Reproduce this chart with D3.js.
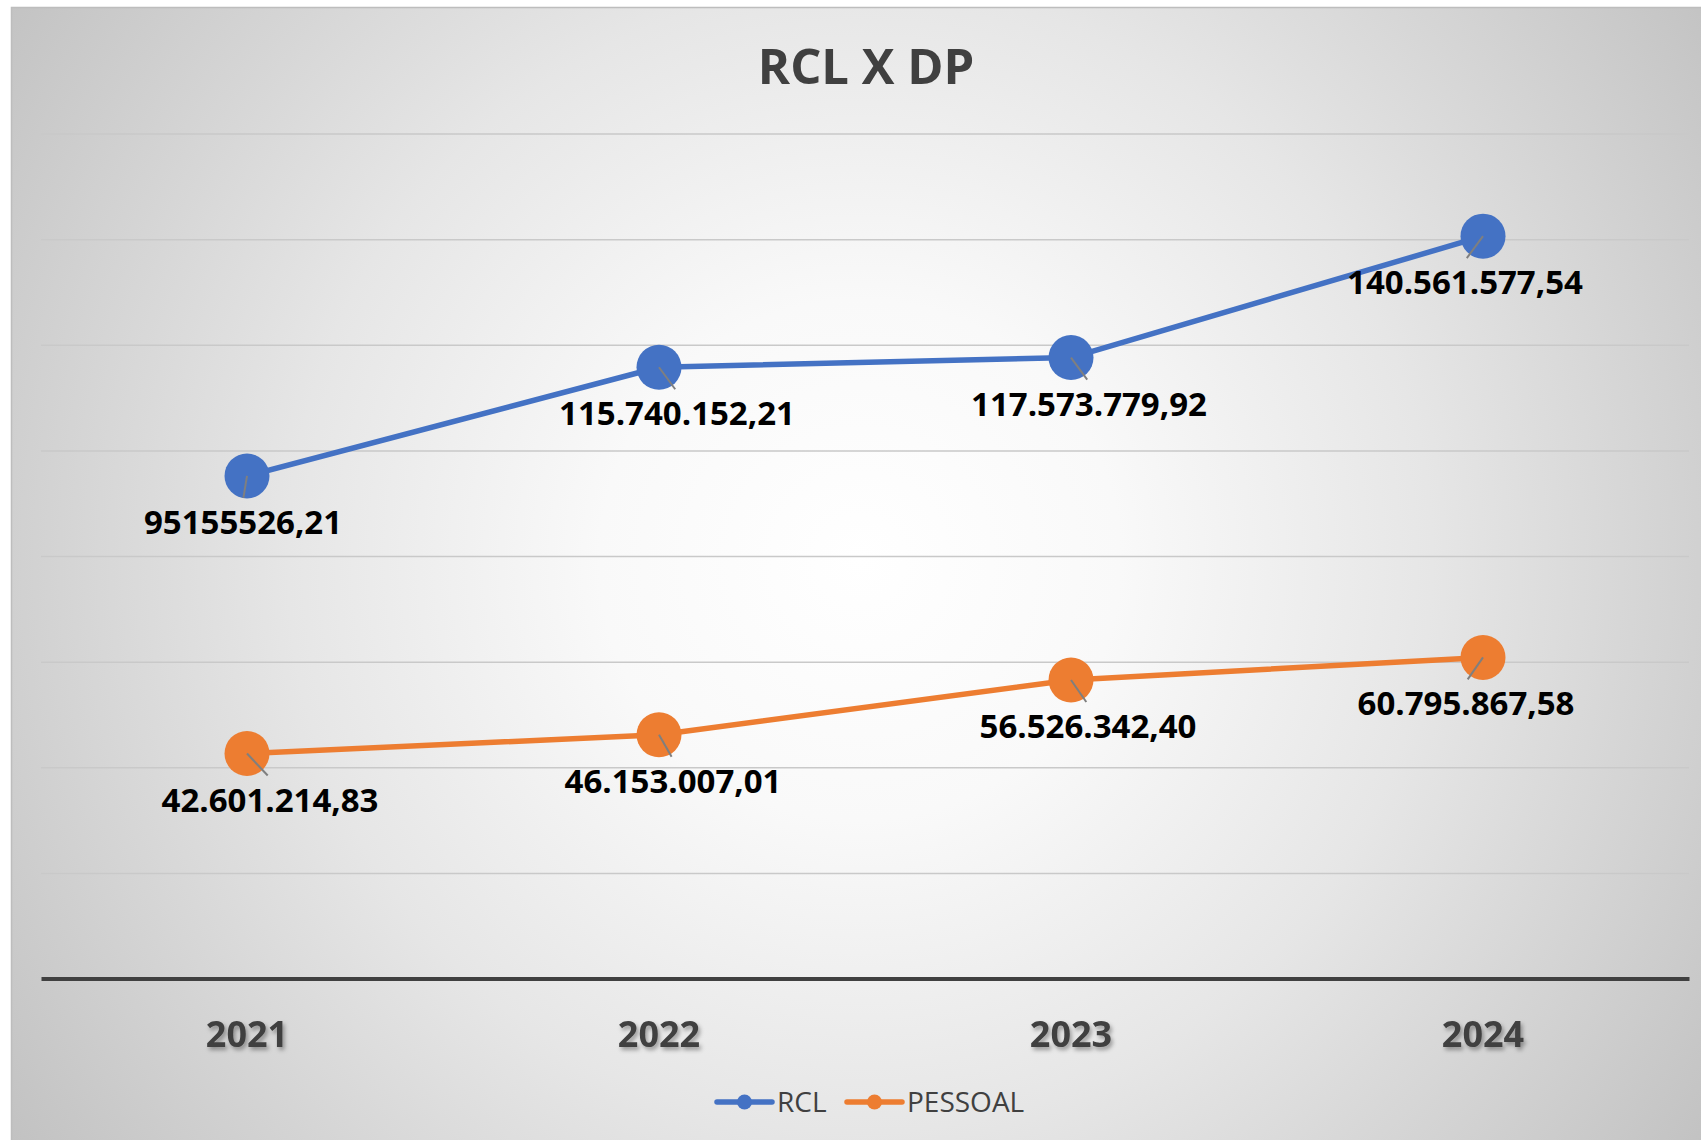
<!DOCTYPE html>
<html>
<head>
<meta charset="utf-8">
<script src="https://cdn.jsdelivr.net/npm/d3@7"></script>
<style>
  body { margin: 0; background: #fff; }
  svg { display: block; font-family: "Open Sans", "Noto Sans", sans-serif; }
</style>
</head>
<body>
<div id="chart"></div>
<script>
var years = ["2021", "2022", "2023", "2024"];
var rclValues = [95155526.21, 115740152.21, 117573779.92, 140561577.54];
var rclLabels = ["95155526,21", "115.740.152,21", "117.573.779,92", "140.561.577,54"];
var pessoalValues = [42601214.83, 46153007.01, 56526342.40, 60795867.58];
var pessoalLabels = ["42.601.214,83", "46.153.007,01", "56.526.342,40", "60.795.867,58"];
var yTicks = [0, 20e6, 40e6, 60e6, 80e6, 100e6, 120e6, 140e6, 160e6];

// label nudges (px) so data labels sit like the original
var rclNudge = [-4, 18, 18, -18];
var pessoalNudge = [23, 14, 17, -17];

var width = 1701,
    height = 1140,
    plotLeft = 41,
    plotRight = 1689,
    plotTop = 133.5,
    plotBottom = 978.5;

var series = [
    {name: "RCL", color: "#4472C4", values: rclValues, labels: rclLabels, nudge: rclNudge},
    {name: "PESSOAL", color: "#ED7D31", values: pessoalValues, labels: pessoalLabels, nudge: pessoalNudge}
];

var svg = d3.select("#chart").append("svg")
    .attr("width", width)
    .attr("height", height);

var defs = svg.append("defs");
var grad = defs.append("radialGradient")
    .attr("id", "bg")
    .attr("gradientUnits", "userSpaceOnUse")
    .attr("cx", 860).attr("cy", 560).attr("r", 1040);
grad.append("stop").attr("offset", 0).attr("stop-color", "#ffffff");
grad.append("stop").attr("offset", 0.25).attr("stop-color", "#f9f9f9");
grad.append("stop").attr("offset", 0.55).attr("stop-color", "#e6e6e6");
grad.append("stop").attr("offset", 1).attr("stop-color", "#c1c1c1");

var shadow = defs.append("filter").attr("id", "shadow")
    .attr("x", "-20%").attr("y", "-20%").attr("width", "140%").attr("height", "160%");
shadow.append("feDropShadow")
    .attr("dx", 2).attr("dy", 3).attr("stdDeviation", 2)
    .attr("flood-color", "#000").attr("flood-opacity", 0.35);

// chart area
svg.append("rect")
    .attr("x", 11).attr("y", 7)
    .attr("width", width - 11).attr("height", height - 7)
    .attr("fill", "url(#bg)");
svg.append("path")
    .attr("d", "M11.5," + height + "V7.5H" + width)
    .attr("fill", "none")
    .attr("stroke", "#bdbdbd")
    .attr("stroke-width", 1.5);

var x = d3.scaleBand()
    .domain(years)
    .range([plotLeft, plotRight]);

var y = d3.scaleLinear()
    .domain([0, 160e6])
    .range([plotBottom, plotTop]);

// gridlines
var grid = svg.append("g")
    .attr("transform", "translate(" + plotLeft + ",0)")
    .call(d3.axisLeft(y).tickValues(yTicks.slice(1)).tickSize(-(plotRight - plotLeft)).tickFormat(""));
grid.select(".domain").remove();
grid.selectAll("line")
    .attr("stroke", "#c9c9c9")
    .attr("stroke-width", 1.5);

// x axis
var xAxis = svg.append("g")
    .attr("transform", "translate(0," + plotBottom + ")")
    .call(d3.axisBottom(x).tickSize(0).tickPadding(0));
xAxis.select(".domain")
    .attr("stroke", "#404040")
    .attr("stroke-width", 4);
xAxis.selectAll("text")
    .attr("dy", null)
    .attr("y", 68)
    .attr("fill", "#404040")
    .attr("font-size", 36)
    .attr("font-weight", "bold")
    .attr("font-family", "'Open Sans', sans-serif")
    .attr("filter", "url(#shadow)");

// title
svg.append("text")
    .attr("x", 866)
    .attr("y", 84)
    .attr("text-anchor", "middle")
    .attr("font-size", 49)
    .attr("font-weight", "bold")
    .attr("fill", "#404040")
    .text("RCL X DP");

var cx = function (d, i) { return x(years[i]) + x.bandwidth() / 2; };

var line = d3.line()
    .x(function (d, i) { return cx(d, i); })
    .y(function (d) { return y(d); });

series.forEach(function (s) {
    var g = svg.append("g");
    g.append("path")
        .datum(s.values)
        .attr("d", line)
        .attr("fill", "none")
        .attr("stroke", s.color)
        .attr("stroke-width", 5.5)
        .attr("stroke-linejoin", "round");
    g.selectAll("circle")
        .data(s.values)
        .enter().append("circle")
        .attr("cx", cx)
        .attr("cy", function (d) { return y(d); })
        .attr("r", 22.5)
        .attr("fill", s.color);
    // leader lines
    g.selectAll("line.leader")
        .data(s.values)
        .enter().append("line")
        .attr("class", "leader")
        .attr("x1", cx)
        .attr("y1", function (d) { return y(d); })
        .attr("x2", function (d, i) { return cx(d, i) + s.nudge[i] * 0.9; })
        .attr("y2", function (d) { return y(d) + 22; })
        .attr("stroke", "#7f7f7f")
        .attr("stroke-width", 2);
    g.selectAll("text")
        .data(s.values)
        .enter().append("text")
        .attr("x", function (d, i) { return cx(d, i) + s.nudge[i]; })
        .attr("y", function (d) { return y(d) + 58; })
        .attr("text-anchor", "middle")
        .attr("font-size", 33)
        .attr("font-weight", "bold")
        .attr("fill", "#000")
        .text(function (d, i) { return s.labels[i]; });
});

// legend
var legendItems = [
    {name: "RCL", color: "#4472C4", x: 717},
    {name: "PESSOAL", color: "#ED7D31", x: 847}
];
var legend = svg.append("g").attr("transform", "translate(0,1102)");
legendItems.forEach(function (d) {
    legend.append("line")
        .attr("x1", d.x).attr("x2", d.x + 55)
        .attr("y1", 0).attr("y2", 0)
        .attr("stroke", d.color)
        .attr("stroke-width", 5.5)
        .attr("stroke-linecap", "round");
    legend.append("circle")
        .attr("cx", d.x + 27.5).attr("cy", 0)
        .attr("r", 7.5)
        .attr("fill", d.color);
    legend.append("text")
        .attr("x", d.x + 60)
        .attr("y", 10)
        .attr("font-size", 28)
        .attr("fill", "#404040")
        .text(d.name);
});
</script>
</body>
</html>
